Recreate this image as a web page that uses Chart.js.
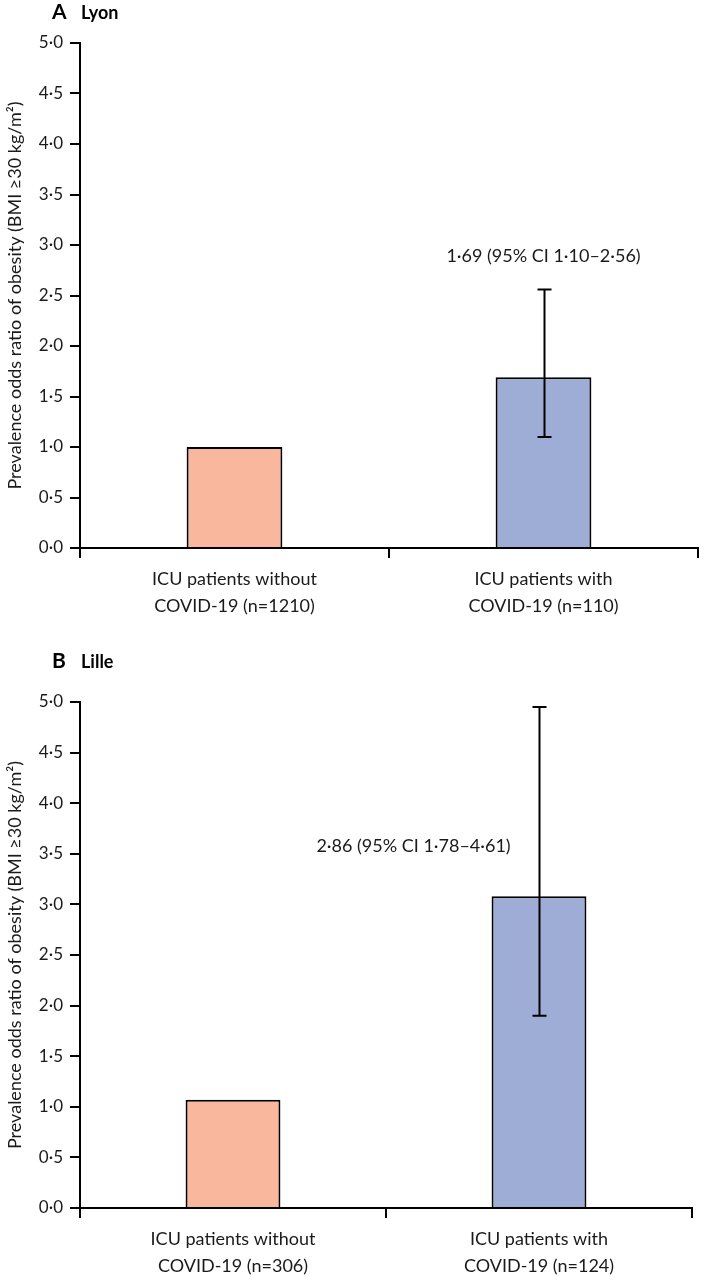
<!DOCTYPE html>
<html>
<head>
<meta charset="utf-8">
<script src="https://cdn.jsdelivr.net/npm/chart.js@4.4.1/dist/chart.umd.min.js"></script>
<style>
  html, body { margin: 0; padding: 0; background: #fff; }
  .wrap { position: relative; width: 704px; height: 1277px; }
  canvas { position: absolute; left: 0; }
  #chartA { top: 0; }
  #chartB { top: 630px; }
</style>
</head>
<body>
<div class="wrap">
  <canvas id="chartA" width="704" height="630"></canvas>
  <canvas id="chartB" width="704" height="647"></canvas>
</div>
<script>
// ------- Datos -------
const categoriesA = [['ICU patients without', 'COVID-19 (n=1210)'], ['ICU patients with', 'COVID-19 (n=110)']];
const valuesA = [1.00, 1.69];
const ciLowA = [null, 1.10];
const ciHighA = [null, 2.56];
const noteA = '1·69 (95% CI 1·10–2·56)';

const categoriesB = [['ICU patients without', 'COVID-19 (n=306)'], ['ICU patients with', 'COVID-19 (n=124)']];
const valuesB = [1.07, 3.08];
const ciLowB = [null, 1.90];
const ciHighB = [null, 4.95];
const noteB = '2·86 (95% CI 1·78–4·61)';

const barColors = ['#f9b89d', '#9eadd6'];
const FONT = 'Lato, "Open Sans", sans-serif';

// ------- Helpers -------
const fmt = v => Number(v).toFixed(1).replace('.', '·');

// barras de error + nota + título del panel
const extrasPlugin = {
    id: 'extras',
    afterDatasetsDraw(chart, args, opts) {
        const ctx = chart.ctx;
        const meta = chart.getDatasetMeta(0);
        const y = chart.scales.y, x = chart.scales.x;
        ctx.save();
        ctx.strokeStyle = '#000';
        ctx.lineWidth = 2;
        opts.low.forEach((lo, i) => {
            const hi = opts.high[i];
            if (lo == null || hi == null) return;
            const px = Math.round(meta.data[i].x) + 0.5;
            const y1 = y.getPixelForValue(lo), y2 = y.getPixelForValue(hi);
            ctx.beginPath();
            ctx.moveTo(px, y1); ctx.lineTo(px, y2);
            ctx.moveTo(px - 7, y1); ctx.lineTo(px + 7, y1);
            ctx.moveTo(px - 7, y2); ctx.lineTo(px + 7, y2);
            ctx.stroke();
        });
        // nota
        ctx.fillStyle = '#1a1a1a';
        ctx.font = '18px ' + FONT;
        ctx.textAlign = 'center';
        ctx.textBaseline = 'alphabetic';
        ctx.fillText(opts.note, x.getPixelForValue(opts.noteAt[0]), y.getPixelForValue(opts.noteAt[1]));
        // título
        ctx.textAlign = 'left';
        ctx.fillStyle = '#000';
        ctx.font = 'bold 21px ' + FONT;
        ctx.fillText(opts.letter, 52, opts.titleY);
        ctx.font = 'bold 18px ' + FONT;
        ctx.fillText(opts.place, 81, opts.titleY);
        ctx.restore();
    }
};

function makeChart(id, labels, values, extras, pad, xHeight) {
    return new Chart(document.getElementById(id), {
        type: 'bar',
        data: {
            labels,
            datasets: [{
                data: values,
                backgroundColor: barColors,
                borderColor: '#000',
                borderWidth: 2,
                borderSkipped: 'bottom',
                barPercentage: 0.62,
                categoryPercentage: 0.5
            }]
        },
        options: {
            responsive: false,
            animation: false,
            devicePixelRatio: 1,
            layout: { padding: pad },
            plugins: { legend: { display: false }, tooltip: { enabled: false }, extras },
            scales: {
                x: {
                    offset: true,
                    grid: { offset: true, drawOnChartArea: false, tickLength: 10, color: '#000', lineWidth: 2 },
                    border: { display: true, color: '#000', width: 2 },
                    ticks: { color: '#1a1a1a', padding: 8, font: { family: FONT, size: 18 }, },
                    afterFit: s => { s.height = xHeight; }
                },
                y: {
                    min: 0, max: 5,
                    ticks: { stepSize: 0.5, callback: v => fmt(v), color: '#1a1a1a', padding: 7, font: { family: FONT, size: 17 } },
                    grid: { drawOnChartArea: false, tickLength: 10, color: '#000', lineWidth: 2 },
                    border: { display: true, color: '#000', width: 2 },
                    title: {
                        display: true,
                        text: 'Prevalence odds ratio of obesity (BMI ≥30 kg/m²)',
                        color: '#1a1a1a',
                        font: { family: FONT, size: 18 },
                        padding: { top: 2, bottom: 0 }
                    },
                    afterFit: s => { s.width = 80; }
                }
            }
        },
        plugins: [extrasPlugin]
    });
}

// lineHeight de las etiquetas del eje x
Chart.defaults.font.lineHeight = 1.5;

makeChart('chartA', categoriesA, valuesA,
    { low: ciLowA, high: ciHighA, note: noteA, noteAt: [1, 2.83], letter: 'A', place: 'Lyon', titleY: 19 },
    { left: 0, right: 6, top: 43, bottom: 0 }, 82);

makeChart('chartB', categoriesB, valuesB,
    { low: ciLowB, high: ciHighB, note: noteB, noteAt: [0.59, 3.52], letter: 'B', place: 'Lille', titleY: 38 },
    { left: 0, right: 12, top: 72, bottom: 0 }, 69);
</script>
</body>
</html>
